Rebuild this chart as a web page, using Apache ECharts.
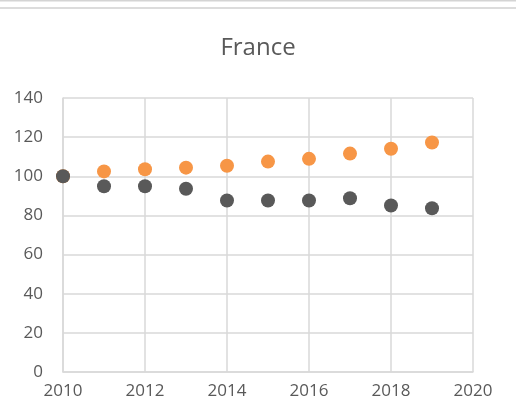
<!DOCTYPE html>
<html><head><meta charset="utf-8">
<script src="https://cdn.jsdelivr.net/npm/echarts@6/dist/echarts.min.js"></script>
<style>html,body{margin:0;padding:0;background:#fff}#c{width:516px;height:419px}</style>
</head><body><div id="c"></div>
<script>
const years = [2010, 2011, 2012, 2013, 2014, 2015, 2016, 2017, 2018, 2019];
const orangeValues = [100, 102.5, 103.6, 104.4, 105.4, 107.5, 108.9, 111.6, 114.1, 117.3];
const darkValues = [100, 94.9, 94.9, 93.6, 87.6, 87.6, 87.6, 88.8, 85.1, 83.7];
const titleText = 'France';

const chart = echarts.init(document.getElementById('c'), null, {renderer: 'canvas'});
const font = '"Open Sans", "Liberation Sans", sans-serif';
chart.setOption({
  animation: false,
  backgroundColor: '#fff',
  title: {text: titleText, left: 'center', top: 31,
    textStyle: {fontFamily: font, fontSize: 24, fontWeight: 'normal', color: '#595959'}},
  grid: {left: 63, right: 43, top: 98, bottom: 47},
  xAxis: {type: 'value', min: 2010, max: 2020, interval: 2,
    axisLine: {show: true, lineStyle: {color: '#d9d9d9', width: 1.5}},
    axisTick: {show: false},
    splitLine: {show: true, lineStyle: {color: '#d9d9d9', width: 1.5}},
    axisLabel: {fontFamily: font, fontSize: 17, color: '#595959', margin: 11,
      formatter: v => String(v)}},
  yAxis: {type: 'value', min: 0, max: 140, interval: 20,
    axisLine: {show: true, lineStyle: {color: '#d9d9d9', width: 1.5}},
    axisTick: {show: false},
    splitLine: {show: true, lineStyle: {color: '#d9d9d9', width: 1.5}},
    axisLabel: {fontFamily: font, fontSize: 17, color: '#595959', margin: 20}},
  graphic: [
    {type: 'rect', shape: {x: 0, y: 0, width: 516, height: 1.5}, style: {fill: '#d4d4d4'}},
    {type: 'rect', shape: {x: 0, y: 7, width: 516, height: 2}, style: {fill: '#dcdcdc'}}
  ],
  series: [
    {type: 'scatter', symbolSize: 14, itemStyle: {color: '#F79646', opacity: 1},
     data: years.map((y, i) => [y, orangeValues[i]])},
    {type: 'scatter', symbolSize: 14, itemStyle: {color: '#595959', opacity: 1},
     data: years.map((y, i) => [y, darkValues[i]])}
  ]
});
</script></body></html>
